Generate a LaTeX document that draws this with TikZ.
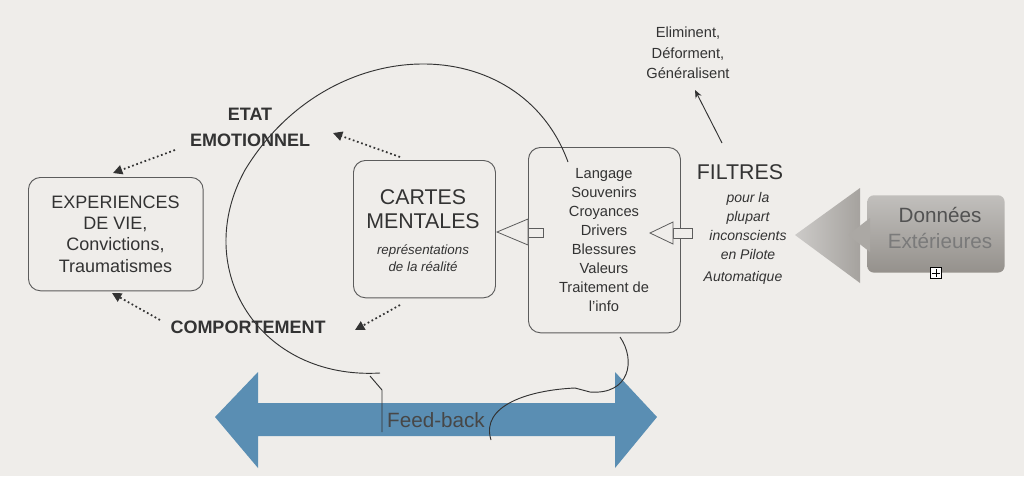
\documentclass[tikz,border=0pt]{standalone}
\usepackage{fontspec}
\setmainfont{Liberation Sans}
\usetikzlibrary{arrows.meta}
\definecolor{bg}{HTML}{EFEDEA}
\definecolor{ink}{HTML}{333333}
\definecolor{blu}{HTML}{5A8EB3}
\definecolor{gry}{HTML}{8F8B86}
\tikzset{
  box/.style={draw=ink!80, rounded corners=9pt, line width=0.7pt},
  txt/.style={text=ink, align=center, inner sep=0pt},
  dotarr/.style={ink, line width=1.3pt, dotted, -{Triangle[length=7pt,width=7pt]}},
  hollow/.style={draw=ink!80, fill=bg, line width=0.6pt},
}
\begin{document}
\begin{tikzpicture}[x=0.75pt,y=-0.75pt]
\useasboundingbox (0,0) rectangle (1024,476);
\fill[bg] (0,0) rectangle (1024,476);
% boxes
\node[box, minimum width=131pt, minimum height=85pt, anchor=north west] (exp) at (28,177) {};
\node[txt, font=\fontsize{13.5}{16}\selectfont] (expt) at (115.5,234) {EXPERIENCES\\DE VIE,\\Convictions,\\Traumatismes};
\node[box, minimum width=106.5pt, minimum height=103pt, anchor=north west] (cm) at (353,160) {};
\node[txt, font=\fontsize{16}{18}\selectfont] (cmt) at (423,209) {CARTES\\MENTALES};
\node[txt, font=\itshape\fontsize{10}{12.5}\selectfont] (cmi) at (423,258) {représentations\\de la réalité};
\node[box, minimum width=114pt, minimum height=139pt, anchor=north west] (fb) at (528,147) {};
\node[txt, font=\fontsize{11}{14.2}\selectfont] (fbt) at (604,240) {Langage\\Souvenirs\\Croyances\\Drivers\\Blessures\\Valeurs\\Traitement de\\l’info};
\node[txt, font=\fontsize{16}{17}\selectfont] (fil) at (740,172) {FILTRES};
\node[txt, font=\itshape\fontsize{10.5}{14.2}\selectfont] (filt) at (748,226) {pour la\\plupart\\inconscients\\en Pilote};
\node[txt, font=\itshape\fontsize{10.5}{12}\selectfont] (auto) at (743,278) {Automatique};
\node[txt, font=\fontsize{11}{15.5}\selectfont] (elim) at (688,53) {Eliminent,\\Déforment,\\Généralisent};
\node[txt, font=\bfseries\fontsize{13.5}{19.5}\selectfont] (etat) at (250,127) {ETAT\\EMOTIONNEL};
\node[txt, font=\bfseries\fontsize{13.5}{14}\selectfont] (comp) at (248,327) {COMPORTEMENT};
% hollow arrows
\draw[hollow] (528,228) rectangle (543,237);
\draw[hollow] (528,219) -- (497,232) -- (528,245) -- cycle;
\draw[hollow] (673,228) rectangle (692,238);
\draw[hollow] (673,222) -- (650,233) -- (673,244) -- cycle;
% donnees
\shade[left color=gry!45, right color=gry!80] (860,188) -- (795,235) -- (860,283) -- cycle;
\node[draw=none, rounded corners=5pt, minimum width=103pt, minimum height=58pt, anchor=north west, top color=gry!55, bottom color=gry!95] (don) at (867,195) {};
\fill[gry!75] (870,218) -- (848,235) -- (870,252) -- cycle;
\node[txt, font=\fontsize{15.5}{20}\selectfont, text=ink!85] (dont) at (940,228) {Données\\\textcolor{ink!65}{Extérieures}};
\node[draw=black, fill=white, minimum size=8pt, inner sep=0pt, line width=0.6pt] (plus) at (936,273) {};
\draw[black, line width=0.6pt] (932,273) -- (940,273) (936,269) -- (936,277);
% dotted arrows
\coordinate (d1a) at (400,157); \coordinate (d1b) at (333,133);
\coordinate (d2a) at (175,150); \coordinate (d2b) at (113,173);
\coordinate (d3a) at (160,320); \coordinate (d3b) at (112,293);
\coordinate (d4a) at (400,305); \coordinate (d4b) at (355,330);
\draw[dotarr] (d1a) -- (d1b);
\draw[dotarr] (d2a) -- (d2b);
\draw[dotarr] (d3a) -- (d3b);
\draw[dotarr] (d4a) -- (d4b);
% eliminent arrow
\coordinate (e1) at (722,143); \coordinate (e2) at (695,90);
\draw[ink, line width=0.7pt, -{Stealth[length=6pt,width=5pt]}] (e1) -- (e2);
% blue arrow
\fill[blu] (215,417) -- (258,372) -- (258,403) -- (615,403) -- (615,372) -- (657,417) -- (615,468) -- (615,436) -- (258,436) -- (258,468) -- cycle;
\node[txt, font=\fontsize{15.5}{17}\selectfont, text=ink!90] (fbk) at (436,420) {Feed-back};
% curves
\draw[ink, line width=0.7pt] (568,162) .. controls (520,30) and (330,30) .. (245,170)
  .. controls (190,270) and (260,380) .. (380,373);
\draw[ink, line width=0.7pt] (370,376) -- (382,390) -- (382,432);
\draw[ink, line width=0.7pt] (620,337) .. controls (636,360) and (630,395) .. (590,392)
  -- (575,388) .. controls (530,390) and (480,405) .. (491,440);
\end{tikzpicture}
\end{document}
